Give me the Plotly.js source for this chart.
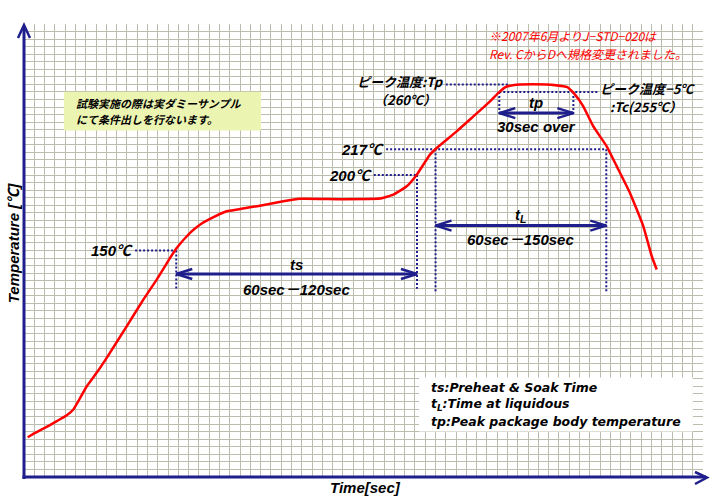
<!DOCTYPE html>
<html><head><meta charset="utf-8">
<script src="https://cdn.plot.ly/plotly-3.0.1.min.js"></script>
<style>html,body{margin:0;padding:0;background:#fff}</style>
</head><body><div id="chart" style="width:712px;height:504px"></div>
<script>
// ---------------- data ----------------
const timeSec = [1.8, 4.5, 9.4, 12.6, 16.7, 20.8, 24.0, 26.4, 30.5, 35.3, 40.2, 49.9, 58.0, 64.5, 71.0, 74.2, 80.7, 85.5, 90.4, 98.5, 105.0, 114.7, 126.0, 134.1, 153.6, 173.0, 179.5, 186.0, 190.9, 197.3, 200.6, 210.3, 218.4, 226.5, 231.3, 234.6, 241.1, 254.0, 263.8, 267.8, 271.8, 276.7, 283.2, 288.1, 294.5, 301.0, 305.1, 307.5];
const tempC = [26.3, 28.6, 32.1, 34.4, 37.6, 40.9, 44.7, 50.2, 60.1, 69.0, 78.9, 99.8, 117.5, 130.7, 145.1, 151.7, 161.7, 167.1, 170.9, 176.0, 177.5, 179.7, 182.6, 184.2, 184.0, 184.4, 187.0, 192.5, 200.2, 213.5, 217.9, 228.9, 238.8, 248.8, 255.4, 258.6, 260, 260, 258.3, 253.2, 245.5, 232.2, 219.0, 205.7, 188.1, 166.0, 146.2, 137.4];

const levelTemps = [150, 200, 217];
const levelLabels = ['150℃', '200℃', '217℃'];
const levelGuideFrom = [54, 170, 176];     // time where each dotted guide starts
const levelGuideTo = [74, 191, 283];       // time where each dotted guide ends

const peakTemp = 260;
const tcTemp = 255;
const peakGuide = [205, 236];
const tcGuide = [231, 279];

const tsSec = [74, 191];
const tLSec = [200, 283];
const tpSec = [231, 267];
const spanNames = ['ts', 't<sub>L</sub>', 'tp'];
const spanTexts = ['60sec－120sec', '60sec－150sec', '30sec over'];
const legendLines = ['ts:Preheat & Soak Time', 't<sub>L</sub>:Time at liquidous', 'tp:Peak package body temperature'];
const noteLines = ['試験実施の際は実ダミーサンプル', 'にて条件出しを行ないます。'];
const redLines = ['※2007年6月よりJ−STD−020は', 'Rev. CからDへ規格変更されました。'];

// ---------------- style ----------------
const NAVY = '#1e1e8c';
const RED = '#ff0000';
const GRID = '#bdbdad';
const LAT = 'Liberation Sans, Noto Sans CJK JP, sans-serif';
const DJV = 'DejaVu Sans, Noto Sans CJK JP, sans-serif';
const JP = 'Noto Sans CJK JP, sans-serif';
const ML = 24, MR = 9, MT = 24, MB = 27, W = 712, H = 504;
const PW = W - ML - MR, PH = H - MT - MB;
const XR = [0, 330], YR = [0, 300];
const XPX = (XR[1] - XR[0]) / PW, YPX = (YR[1] - YR[0]) / PH;
const px2paperX = p => (p - ML) / PW;
const px2paperY = p => (H - MB - p) / PH;

const traces = [];
const dotted = {color: NAVY, width: 2, dash: '2px,2px'};
function seg(x, y, line) {
  traces.push({x: x, y: y, mode: 'lines', line: line, hoverinfo: 'skip', showlegend: false});
}
// level guides
levelTemps.forEach((t, i) => seg([levelGuideFrom[i], levelGuideTo[i]], [t, t], dotted));
seg(peakGuide, [peakTemp, peakTemp], dotted);
seg(tcGuide, [tcTemp, tcTemp], dotted);
// vertical guides
const tsBottom = 124.6, tLBottom = 123, tpBottom = 239;
seg([tsSec[0], tsSec[0]], [levelTemps[0], tsBottom], dotted);
seg([tsSec[1], tsSec[1]], [levelTemps[1], tsBottom], dotted);
seg([tLSec[0], tLSec[0]], [levelTemps[2], tLBottom], dotted);
seg([tLSec[1], tLSec[1]], [levelTemps[2], tLBottom], dotted);
seg([tpSec[0], tpSec[0]], [tcTemp, tpBottom], dotted);
seg([tpSec[1], tpSec[1]], [tcTemp, tpBottom], dotted);

// double arrows
const arrowY = [134.4, 166.5, 241];
const spans = [tsSec, tLSec, tpSec];
const L = 16 * XPX, Hh = 5 * YPX;
spans.forEach((s, i) => {
  const y = arrowY[i];
  seg([s[0], s[1]], [y, y], {color: NAVY, width: 3});
  seg([s[0] + L, s[0], s[0] + L, null, s[1] - L, s[1], s[1] - L],
      [y + Hh, y, y - Hh, null, y + Hh, y, y - Hh], {color: NAVY, width: 2.5});
});

// profile curve
traces.push({x: timeSec, y: tempC, mode: 'lines', line: {color: RED, width: 2.5, shape: 'spline', smoothing: 0.4},
  hoverinfo: 'skip', showlegend: false});

// ---------------- annotations ----------------
const ann = [];
function txt(o) {
  ann.push(Object.assign({showarrow: false, xref: 'x', yref: 'y', xanchor: 'center', yanchor: 'middle'}, o));
}
const fnt = (fam, s, c, w) => ({family: fam, size: s, color: c || '#000', weight: w || 'bold', style: 'italic'});

levelLabels.forEach((lab, i) => txt({x: levelGuideFrom[i], y: levelTemps[i], text: lab, xanchor: 'right', font: fnt(LAT, 15)}));
txt({x: peakGuide[0], y: peakTemp, text: 'ピーク温度:Tp', xanchor: 'right', yshift: 3, font: fnt(JP, 13)});
txt({x: 185, y: 250, text: '（260℃）', font: fnt(JP, 13)});
txt({x: tcGuide[1], y: tcTemp, text: 'ピーク温度−5℃', xanchor: 'left', yshift: 3, font: fnt(JP, 13)});
txt({x: 283.8, y: 245.3, text: ':Tc(255℃）', xanchor: 'left', font: fnt(JP, 13)});

const nameShift = [9.5, 10, 10.5], textShift = [-15.5, -14, -13.5];
spans.forEach((s, i) => {
  const cx = (s[0] + s[1]) / 2;
  txt({x: cx, y: arrowY[i], text: spanNames[i], yshift: nameShift[i], font: fnt(LAT, 15)});
  txt({x: cx, y: arrowY[i], text: spanTexts[i], yshift: textShift[i], font: fnt(LAT, 15)});
});

// note box text (two lines)
txt({x: 24.3, y: 242.3, text: noteLines[0], xanchor: 'left', yshift: 8.2, font: fnt(JP, 11)});
txt({x: 24.3, y: 242.3, text: noteLines[1], xanchor: 'left', yshift: -8.2, font: fnt(JP, 11)});
// red note (two lines)
txt({x: 225, y: 286.5, text: redLines[0], xanchor: 'left', yshift: 8.9, font: fnt(JP, 12, RED, 'normal')});
txt({x: 225, y: 286.5, text: redLines[1], xanchor: 'left', yshift: -8.9, font: fnt(JP, 12, RED, 'normal')});
// legend
const legY = [59.2, 48.0, 36.9];
legendLines.forEach((l, i) => txt({x: 196.8, y: legY[i], text: l, xanchor: 'left', font: fnt(DJV, 12.5)}));

// axis titles
ann.push({showarrow: false, xref: 'paper', yref: 'paper', x: px2paperX(13.3), y: px2paperY(243), textangle: -90,
  text: 'Temperature [℃]', font: fnt(LAT, 15), xanchor: 'center', yanchor: 'middle'});
ann.push({showarrow: false, xref: 'paper', yref: 'paper', x: px2paperX(365), y: px2paperY(488),
  text: 'Time[sec]', font: fnt(LAT, 15), xanchor: 'center', yanchor: 'middle'});

// ---------------- shapes ----------------
const shapes = [
  {type: 'rect', xref: 'x', yref: 'y', x0: 19.4, x1: 115.2, y0: 229.4, y1: 255.2, fillcolor: '#ecf4b2', line: {width: 0}, layer: 'above'},
  {type: 'rect', xref: 'x', yref: 'y', x0: 192, x1: 325.1, y0: 30.1, y1: 65.9, fillcolor: '#ffffff', line: {width: 0}, layer: 'above'},
  {type: 'line', xref: 'paper', yref: 'paper', x0: 0, x1: 0, y0: px2paperY(479), y1: px2paperY(26), line: {color: NAVY, width: 3}, layer: 'above'},
  {type: 'line', xref: 'paper', yref: 'paper', x0: px2paperX(22.5), x1: px2paperX(706), y0: 0, y1: 0, line: {color: NAVY, width: 3}, layer: 'above'},
  {type: 'path', xref: 'paper', yref: 'paper', layer: 'above', line: {color: NAVY, width: 2.5},
    path: `M${px2paperX(18)},${px2paperY(38)} L${px2paperX(24)},${px2paperY(25)} L${px2paperX(30)},${px2paperY(38)}`},
  {type: 'path', xref: 'paper', yref: 'paper', layer: 'above', line: {color: NAVY, width: 2.5},
    path: `M${px2paperX(695)},${px2paperY(472)} L${px2paperX(707)},${px2paperY(477.5)} L${px2paperX(695)},${px2paperY(484)}`}
];

const axisCommon = {showgrid: true, gridcolor: GRID, gridwidth: 1, showticklabels: false, ticks: '',
  zeroline: false, showline: false, fixedrange: true, tick0: 0, dtick: 5};

const layout = {
  width: W, height: H,
  margin: {l: ML, r: MR, t: MT, b: MB, pad: 0},
  paper_bgcolor: '#ffffff', plot_bgcolor: '#ffffff',
  showlegend: false,
  xaxis: Object.assign({range: XR}, axisCommon),
  yaxis: Object.assign({range: YR}, axisCommon),
  annotations: ann,
  shapes: shapes
};

Plotly.newPlot('chart', traces, layout, {displayModeBar: false, staticPlot: true});
</script>
</body></html>
